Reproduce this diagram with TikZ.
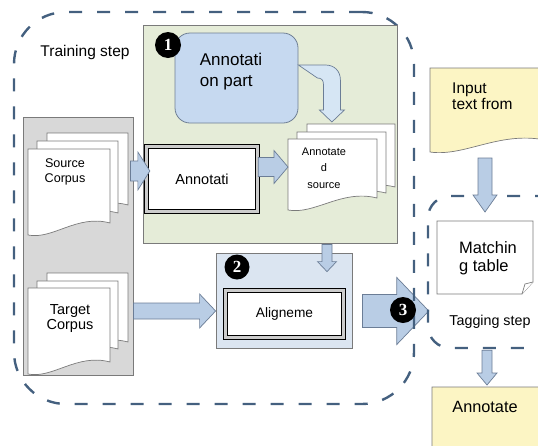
\documentclass[tikz,border=0pt]{standalone}
\usepackage{fontspec}
\setmainfont{Liberation Sans}
\newfontfamily\numfont{Liberation Serif}
\usetikzlibrary{calc}
\definecolor{stepblue}{HTML}{44607F}
\definecolor{edgegray}{HTML}{7A7A7A}
\definecolor{corpusgray}{HTML}{D8D8D8}
\definecolor{traingreen}{HTML}{E5ECD8}
\definecolor{partblue}{HTML}{C6D9F0}
\definecolor{partedge}{HTML}{6F7F94}
\definecolor{arrowblue}{HTML}{B9CDE5}
\definecolor{arrowlight}{HTML}{D6E6F4}
\definecolor{arrowedge}{HTML}{6B7D96}
\definecolor{alignblue}{HTML}{DBE5F1}
\definecolor{noteyellow}{HTML}{FCF5C4}
\pgfdeclarelayer{back}
\pgfsetlayers{back,main}
\newcommand{\fs}[2]{\fontsize{#1}{#2}\selectfont}
% block arrows: from, to, body half, head half, head length
\newcommand{\harrow}[5]{%
  \draw[blockarrow] let \p1=(#1), \p2=(#2) in
    (\x1,\y1+#3pt) -- (\x2-#5pt,\y1+#3pt) -- (\x2-#5pt,\y1+#4pt) -- (\x2,\y1)
    -- (\x2-#5pt,\y1-#4pt) -- (\x2-#5pt,\y1-#3pt) -- (\x1,\y1-#3pt) -- cycle;}
\newcommand{\varrow}[5]{%
  \draw[blockarrow] let \p1=(#1), \p2=(#2) in
    (\x1-#3pt,\y1) -- (\x1-#3pt,\y2+#5pt) -- (\x1-#4pt,\y2+#5pt) -- (\x1,\y2)
    -- (\x1+#4pt,\y2+#5pt) -- (\x1+#3pt,\y2+#5pt) -- (\x1+#3pt,\y1) -- cycle;}
% document sheet with wavy bottom
\newcommand{\docshape}[5][fill=white]{%
  \draw[docline,#1] (#2,#3) -- (#4,#3) -- (#4,{#5-12})
    .. controls ({#2+0.6*(#4-#2)},{#5-21}) and ({#2+0.3*(#4-#2)},{#5+5}) .. (#2,#5) -- cycle;}

\begin{document}
\begin{tikzpicture}[x=1pt,y=-1pt,
  stepline/.style={draw=stepblue, line width=2.4pt, dash pattern=on 13pt off 15pt},
  panel/.style={draw=edgegray, line width=0.8pt},
  docline/.style={draw=edgegray, line width=0.7pt, fill=white},
  dblbox/.style={draw=black, line width=1.3pt, double=gray!40, double distance=2.6pt, fill=white},
  blockarrow/.style={draw=arrowedge, line width=0.7pt, fill=arrowblue},
  numdot/.style={circle, fill=black, text=white, inner sep=0pt, minimum size=26pt, font=\numfont\bfseries\fs{17}{17}},
  area/.style={inner sep=0pt, outer sep=0pt}]
  \useasboundingbox (0,0) rectangle (538,445);
  \clip (0,0) rectangle (538,445);
  % Step frames
  \node[stepline, rounded corners=52pt, minimum width=400, minimum height=392] (train) at (214,208) {};
  \node[stepline, rounded corners=22pt, minimum width=142, minimum height=152] (tag) at (499,272) {};
  \node[font=\fs{15.5}{18}] (trainlbl) at (85,52) {Training step};
  % Corpora
  \node[panel, fill=corpusgray, minimum width=110, minimum height=258] (corpus) at (78,246) {};
  \docshape{47}{133}{128}{217}
  \docshape{37}{141}{118}{225}
  \docshape{28}{149}{110}{235}
  \node[font=\fs{12.6}{15.5}, align=center] (srctxt) at (65,172) {Source\\Corpus};
  \docshape{47}{273}{128}{354}
  \docshape{37}{281}{118}{361}
  \docshape{28}{288}{110}{374}
  \node[font=\fs{14.5}{15}, align=center] (tgttxt) at (70,319) {Target\\Corpus};
  % Annotation stage
  \node[panel, fill=traingreen, minimum width=254, minimum height=218] (annstage) at (270,134) {};
  \node[draw=partedge, line width=0.8pt, fill=partblue, rounded corners=15pt, minimum width=123, minimum height=90] (annpart) at (236.5,78) {};
  \node[font=\fs{17}{21}, align=left] (annparttxt) at (231,72) {Annotati\\on part};
  \node[numdot] (n1) at (168,45) {1};
  \node[dblbox, minimum width=111, minimum height=65, font=\fs{14.5}{17}] (annot) at (202,179) {Annotati};
  \node[area, minimum width=107, minimum height=86] (annsrc) at (341.5,167) {};
  \docshape{307}{124}{395}{199}
  \docshape{297}{132}{386}{205}
  \docshape{288}{139}{377}{210}
  \node[font=\fs{11}{16.5}, align=center] (annsrctxt) at (324,168) {Annotate\\d\\source};
  \begin{scope}[shift={(annpart.east)}]
    \draw[blockarrow, fill=arrowlight] (0,-13) -- (27,-13) .. controls (36,-13) and (42,-7) .. (42,2)
      -- (42,32) -- (46,32) -- (33.5,44) -- (21,32) -- (25,32) -- (25,6)
      .. controls (25,2) and (23,0) .. (19,0) -- cycle;
  \end{scope}
  \harrow{$(corpus.east |- annot.west)+(-3,-8)$}{$(annot.west)+(4,-8)$}{10}{19}{12}
  \harrow{annot.east |- annsrc.west}{annsrc.west}{9.5}{16.5}{14}
  % Alignment stage
  \node[panel, fill=alignblue, minimum width=136, minimum height=95] (box2) at (284,300.5) {};
  \node[numdot, minimum size=25pt] (n2) at (237,267) {2};
  \node[dblbox, minimum width=118, minimum height=47, font=\fs{13.7}{16}] (align) at (284.5,314) {Aligneme};
  \varrow{$(annstage.south)+(57,1)$}{$(box2.north)+(43,19)$}{5}{9.5}{10}
  \coordinate (tgt) at ($(corpus.east)+(0,65)$);
  \harrow{tgt}{box2.west |- tgt}{8}{17}{16}
  \begin{pgfonlayer}{back}
    \harrow{$(box2.east |- tgt)+(10,0)$}{$(tag.west |- tgt)+(2,0)$}{16.5}{33.5}{32}
  \end{pgfonlayer}
  \node[numdot] (n3) at (403,310) {3};
  % Tagging step
  \node[area, minimum width=115, minimum height=84] (input) at (487.5,110) {};
  \docshape[fill=noteyellow]{430}{68}{545}{152}
  \node[font=\fs{15.5}{11.5}, align=left, anchor=north west, inner sep=0pt] (inputtxt) at (452,83) {\lineskiplimit=-20pt\relax Input\\text from};
  \node[area, minimum width=96, minimum height=73] (matchbox) at (485,257.5) {};
  \draw[docline] (matchbox.north west) -- (matchbox.north east) -- ($(matchbox.south east)+(0,-12)$)
    -- ($(matchbox.south east)+(-11,0)$) -- (matchbox.south west) -- cycle;
  \draw[docline] ($(matchbox.south east)+(-11,0)$) -- ($(matchbox.south east)+(-8,-10)$) -- ($(matchbox.south east)+(0,-12)$);
  \node[font=\fs{16.5}{18}, align=left] (matchtxt) at (488,258) {Matchin\\g table};
  \node[font=\fs{14.3}{17}] (tagtxt) at (490,322) {Tagging step};
  \varrow{$(input.south)+(-2.5,6)$}{$(matchbox.north)+(0,-9)$}{7}{12}{17}
  \node[area, minimum width=113, minimum height=83] (output) at (488.5,428.5) {};
  \docshape[fill=noteyellow]{432}{387}{545}{470}
  \node[font=\fs{16.3}{19}] (outtxt) at (485,407) {Annotate};
  \varrow{$(tag.south)+(-12,1)$}{$(output.north)+(0,-2)$}{5}{10}{12}
\end{tikzpicture}
\end{document}
